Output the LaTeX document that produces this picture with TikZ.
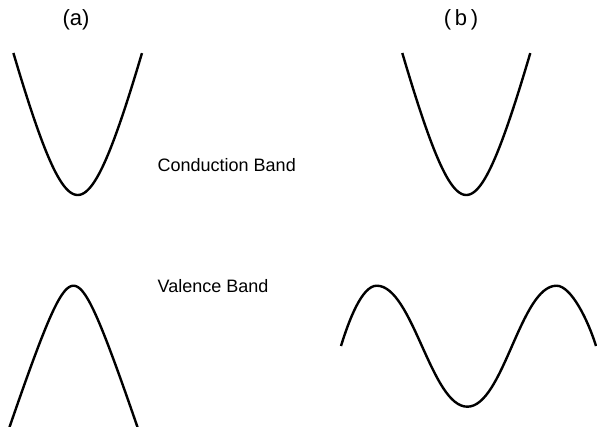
\documentclass[tikz,border=0pt]{standalone}
\usepackage{fontspec}
\setmainfont{Liberation Sans}
\begin{document}
\begin{tikzpicture}[x=1pt,y=-1pt,
  band/.style={line width=2.4pt,line join=round},
  lbl/.style={font=\fontsize{18}{20}\selectfont,anchor=base west,inner sep=0pt},
  panel/.style={font=\fontsize{22}{24}\selectfont,anchor=base,inner sep=0pt}]
\useasboundingbox (0,0) rectangle (597,427);
% panel labels
\node[panel] (la) at (76,26) {(a)};
\node[panel] (lb) at (461,26) {(\,b\,)};
% text labels
\node[lbl] (cb) at (157.5,171.5) {Conduction Band};
\node[lbl] (vb) at (157.5,292.5) {Valence Band};
% conduction band (a)
\draw[band] plot[domain=-1:1,samples=81,smooth]
  ({77.7+64.3*\x},{195-142*(sqrt(1+(1.6*\x)^2)-1)/(sqrt(1+1.6^2)-1)});
% valence band (a)
\draw[band] plot[domain=-1.02:1.02,samples=81,smooth]
  ({73.5+63.5*\x},{285.7+140*(sqrt(1+(3*\x)^2)-1)/(sqrt(1+3^2)-1)});
% conduction band (b)
\draw[band] plot[domain=-1:1,samples=81,smooth]
  ({466.3+64*\x},{195-142*(sqrt(1+(1.6*\x)^2)-1)/(sqrt(1+1.6^2)-1)});
% valence band (b)
\coordinate (vl) at (341,346);
\coordinate (vp1) at (376.7,285.7);
\coordinate (vm) at (467.3,406.7);
\coordinate (vp2) at (556.5,285.7);
\coordinate (vr) at (596,346);
\draw[band] (vl) .. controls (349,320) and (362,285.7) .. (vp1)
  .. controls (412.7,285.7) and (431.3,406.7) .. (vm)
  .. controls (503.3,406.7) and (520.5,285.7) .. (vp2)
  .. controls (571,285.7) and (588,320) .. (vr);
\end{tikzpicture}
\end{document}
